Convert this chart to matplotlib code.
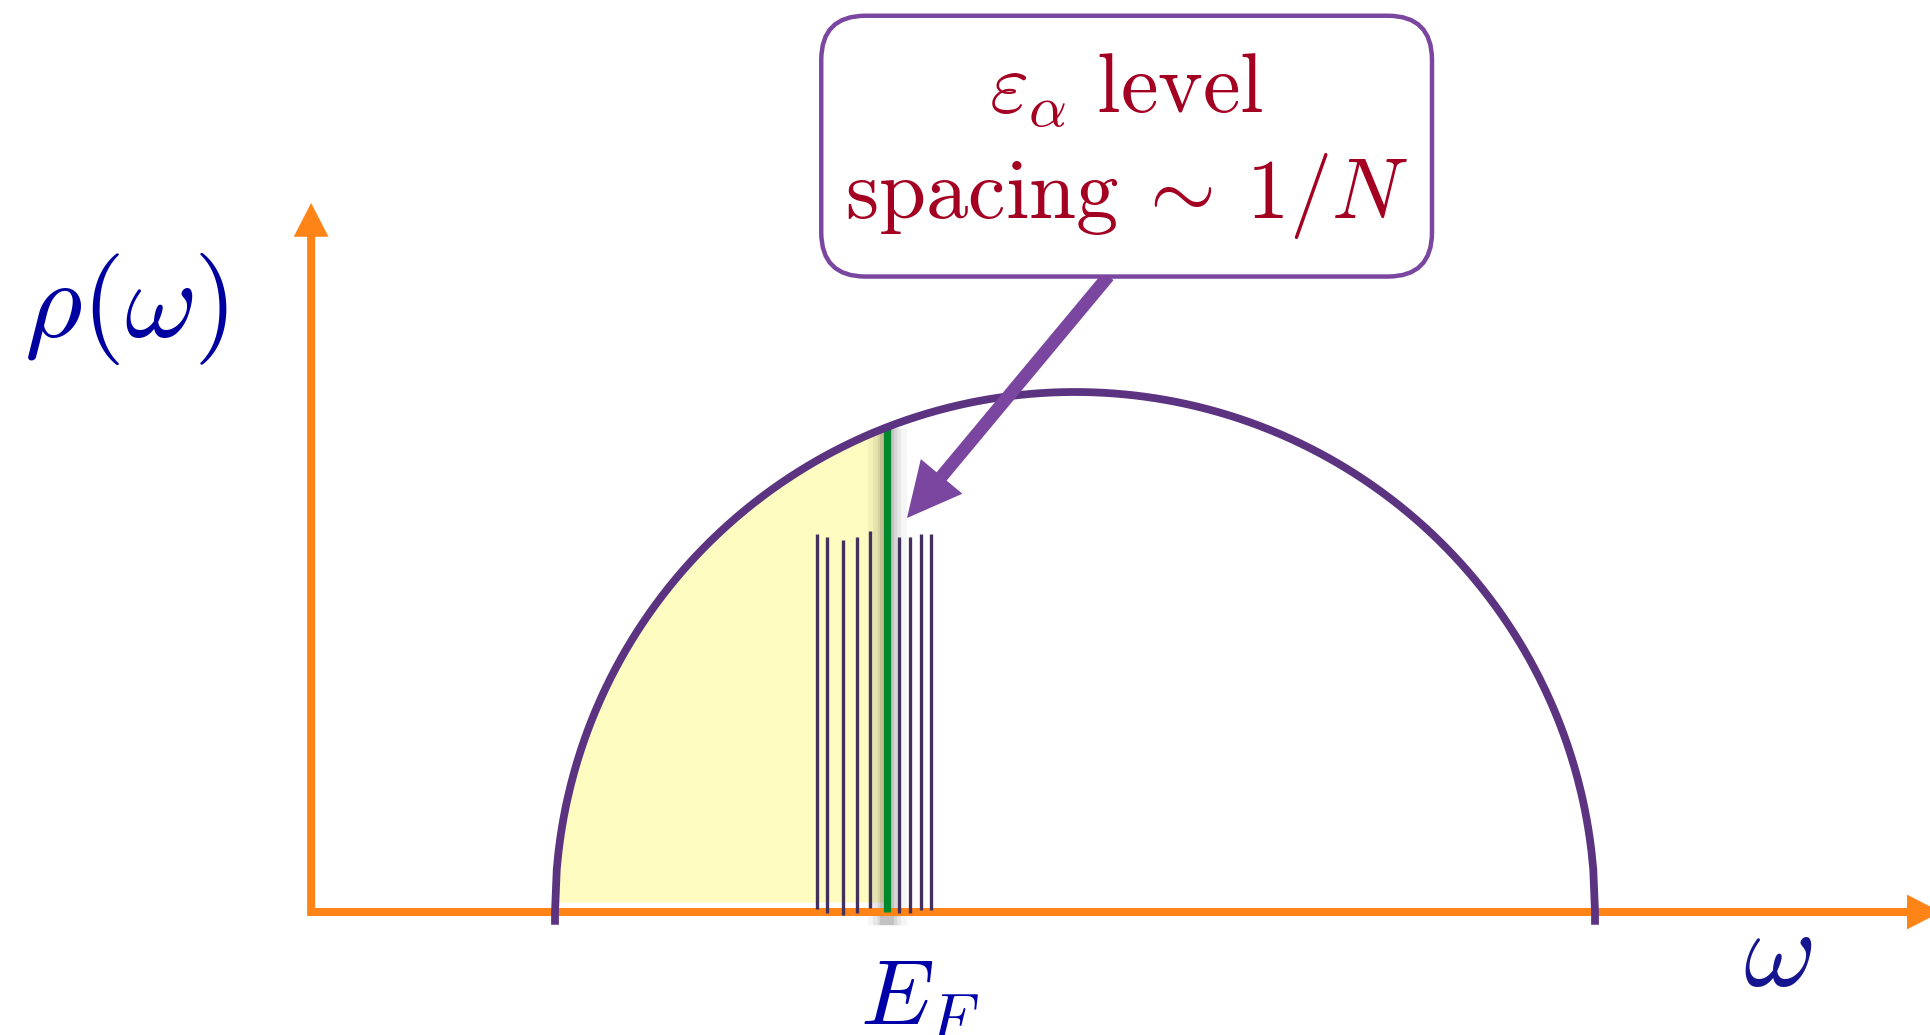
# semicircular density of states with discrete levels near E_F
import numpy as np
import matplotlib
matplotlib.use('Agg')
import matplotlib.pyplot as plt
from matplotlib.patches import FancyArrow, FancyBboxPatch

plt.rcParams['mathtext.fontset'] = 'cm'

# band, in units of the half bandwidth D (rho drawn so that rho(0) = 1)
band_half_width = 1.0
fermi_level = -0.361
fill_floor = 0.019

# discrete eps_alpha levels around E_F
levels = [-0.497, -0.476, -0.446, -0.420, -0.394, -0.338, -0.317, -0.297, -0.276]
level_tops = [0.727, 0.721, 0.715, 0.721, 0.732, 0.721, 0.721, 0.727, 0.727]
level_bottoms = [0.005, -0.002, -0.006, -0.002, 0.008, -0.002, -0.002, 0.004, 0.004]

# axes of the sketch
origin = (-1.469, 0.0)
omega_end = 1.665
rho_end = 1.3635

# callout
box_left, box_right = -0.488, 0.6865
box_bottom, box_top = 1.222, 1.7235
arrow_start = (0.0644, 1.2231)
arrow_tip = (-0.3231, 0.7577)

orange = '#ff8418'
curve_col = '#5c3380'
level_col = '#43305c'
green = '#00892c'
box_col = '#7b46a0'
red = '#a40022'
blue = '#0000a0'

fig = plt.figure(figsize=(19.3, 10.35), dpi=100)
ax = fig.add_axes([0, 0, 1, 1])
ax.set_xlim(-2.0673, 1.6442)
ax.set_ylim(-0.2365, 1.7538)
ax.axis('off')

w = np.linspace(-band_half_width, band_half_width, 600)
rho = np.sqrt(band_half_width**2 - w**2)

# occupied part of the band
wf = w[w <= fermi_level]
ax.fill_between(wf, fill_floor, np.sqrt(band_half_width**2 - wf**2),
                color='#fefbc1', lw=0, zorder=1)

# soft shadow behind the Fermi level line
for lw, a in [(28, 0.04), (20, 0.055), (14, 0.07), (10, 0.09)]:
    ax.plot([fermi_level, fermi_level], [-0.025, 0.93], color='k', alpha=a,
            lw=lw, solid_capstyle='butt', zorder=2)

# axes arrows
ax.add_patch(FancyArrow(origin[0], origin[1], omega_end - origin[0], 0,
                        width=0.0154, head_width=0.067, head_length=0.065,
                        length_includes_head=True, color=orange, lw=0, zorder=3))
ax.add_patch(FancyArrow(origin[0], origin[1] - 0.0077, 0, rho_end - origin[1] + 0.0077,
                        width=0.0154, head_width=0.067, head_length=0.065,
                        length_includes_head=True, color=orange, lw=0, zorder=3))

# levels
ax.vlines(levels, level_bottoms, level_tops, color=level_col, lw=2.4, zorder=4)

# Fermi level
ef_top = np.sqrt(band_half_width**2 - fermi_level**2)
ax.plot([fermi_level, fermi_level], [0, ef_top], color=green, lw=5.2,
        solid_capstyle='butt', zorder=5)

# semicircle DOS
wc = np.concatenate([[-band_half_width], w, [band_half_width]])
rc = np.concatenate([[-0.017], rho, [-0.017]])
ax.plot(wc, rc, color=curve_col, lw=5.6, zorder=6)

# callout arrow and box
ax.add_patch(FancyArrow(arrow_start[0], arrow_start[1],
                        arrow_tip[0] - arrow_start[0], arrow_tip[1] - arrow_start[1],
                        width=0.025, head_width=0.104, head_length=0.104,
                        length_includes_head=True, color=box_col, lw=0, zorder=7))
ax.add_patch(FancyBboxPatch((box_left, box_bottom), box_right - box_left,
                            box_top - box_bottom,
                            boxstyle='round,pad=0,rounding_size=0.085',
                            fc='white', ec=box_col, lw=3.2, zorder=8))
box_mid = 0.5 * (box_left + box_right)
ax.text(box_mid, 1.5365, r'$\varepsilon_\alpha\ \mathrm{level}$', color=red,
        fontsize=61, ha='center', va='baseline', zorder=9)
ax.text(box_mid, 1.3346, r'$\mathrm{spacing}\>\sim\>1/N$', color=red,
        fontsize=61, ha='center', va='baseline', zorder=9)

# labels
ax.text(-1.825, 1.106, r'$\rho(\omega)$', color=blue, fontsize=80,
        ha='center', va='baseline')
ax.text(-0.298, -0.2154, r'$E_F$', color='#0000a8', fontsize=67,
        ha='center', va='baseline')
ax.text(1.352, -0.142, r'$\omega$', color='#15158f', fontsize=80,
        ha='center', va='baseline')

fig.savefig('out.png', dpi=100)
